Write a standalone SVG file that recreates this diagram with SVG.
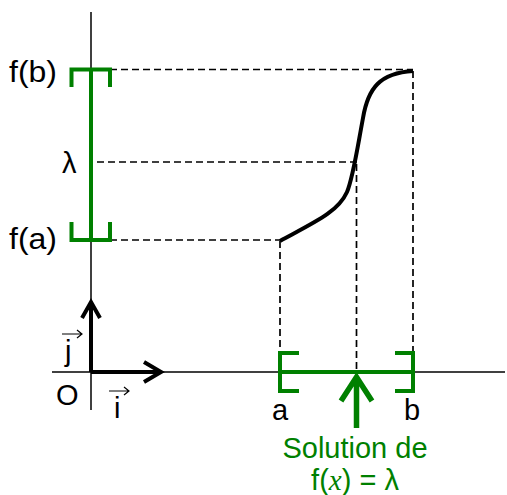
<svg xmlns="http://www.w3.org/2000/svg" width="507" height="495" viewBox="0 0 507 495">
<style>
.axis{stroke:#000;stroke-width:1.5;fill:none}
.dash{stroke:#000;stroke-width:1.7;stroke-dasharray:7,4;fill:none}
.green{stroke:#008000;stroke-width:4;fill:none}
.vec{stroke:#000;stroke-width:4;fill:none}
.thin{stroke:#000;stroke-width:1.2;fill:none}
text{font-family:"Liberation Sans",Arial,sans-serif;font-size:29px;fill:#000}
.gt{fill:#008000}
</style>
<rect width="507" height="495" fill="#fff"/>
<g id="axes">
<line class="axis" x1="91" y1="12" x2="91" y2="410"/>
<line class="axis" x1="52" y1="372" x2="505" y2="372"/>
</g>
<g id="connectors">
<line class="dash" x1="110" y1="69.5" x2="413" y2="69.5"/>
<line class="dash" x1="97" y1="162" x2="357" y2="162"/>
<line class="dash" x1="110" y1="240" x2="280" y2="240"/>
<line class="dash" x1="280" y1="241" x2="280" y2="354"/>
<line class="dash" x1="356.5" y1="164" x2="356.5" y2="372"/>
<line class="dash" x1="413" y1="71" x2="413" y2="354"/>
</g>
<g id="curve">
<path d="M280,241 C315,222 338,212 347,192 C353,178 357,150 363,118 C368,88 380,73 413,71" stroke="#000" stroke-width="4" fill="none"/>
</g>
<g id="y-interval">
<line class="green" x1="91" y1="69.5" x2="91" y2="240"/>
<path class="green" d="M71.5,87 V69.5 H110 V87"/>
<path class="green" d="M71.5,222 V240 H110 V222"/>
</g>
<g id="x-interval">
<line class="green" x1="280" y1="372" x2="413" y2="372"/>
<path class="green" d="M299,353 H280 V391 H299"/>
<path class="green" d="M395,353 H413 V391 H395"/>
<path d="M356.5,428 V376 M341,401 L356.5,377 L372,401" stroke="#008000" stroke-width="5.5" fill="none"/>
</g>
<g id="basis">
<path class="vec" d="M91,372 V302 M82,318 L91,302 L100,318"/>
<path class="vec" d="M91,372 H161 M144,362 L161,372 L144,382"/>
<path class="thin" d="M62,334 H82 M77,330 L82,334 L77,338"/>
<path class="thin" d="M109,391 H129 M124,387 L129,391 L124,395"/>
</g>
<g id="labels">
<text x="9" y="82" font-size="30" textLength="48" lengthAdjust="spacingAndGlyphs">f(b)</text>
<text x="62" y="173" font-size="30">λ</text>
<text x="9" y="249" font-size="30" textLength="48" lengthAdjust="spacingAndGlyphs">f(a)</text>
<text x="56" y="405">O</text>
<text x="65" y="361" font-size="23">j</text>
<text x="114" y="418" font-size="26">i</text>
<text x="272" y="420">a</text>
<text x="404" y="420">b</text>
<text class="gt" x="355" y="458" text-anchor="middle">Solution de</text>
<text class="gt" x="355" y="490" text-anchor="middle">f(<tspan font-family="Liberation Serif,serif" font-style="italic">x</tspan>) = λ</text>
</g>
</svg>
